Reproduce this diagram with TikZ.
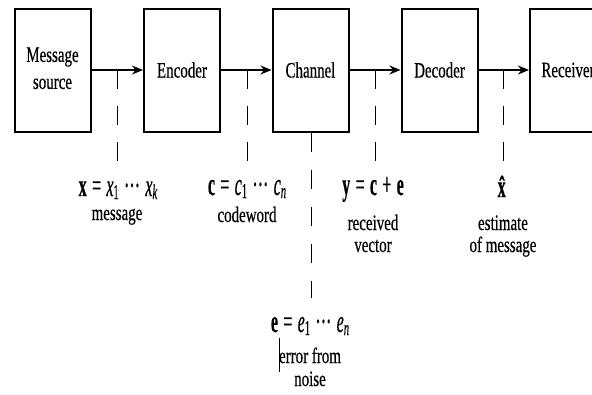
\documentclass[tikz,border=0pt]{standalone}
\usepackage{fontspec}
\setmainfont{Liberation Serif}[FakeStretch=0.68,FakeBold=0.4]
\newfontfamily\eqf{Liberation Serif}[FakeStretch=0.5,FakeBold=0.4]
\usetikzlibrary{arrows.meta}
\newcommand{\mdots}{\,\textperiodcentered\textperiodcentered\textperiodcentered\,}
\newcommand{\lowsub}[1]{\raisebox{-3pt}{\fontsize{21}{21}\selectfont #1}}
\tikzset{
  blk/.style={draw, line width=2pt, minimum width=76pt, minimum height=123pt,
    inner sep=0pt, align=center, font=\fontsize{22}{27}\selectfont},
  flow/.style={line width=2pt, -{Stealth[length=11pt,width=9pt]}},
  drop/.style={line width=1pt, dash pattern=on 19pt off 17pt},
  dropb/.style={line width=1pt, dash pattern=on 19pt off 18pt},
  lbl/.style={inner sep=0pt, anchor=base, font=\fontsize{22}{24}\selectfont},
  eqn/.style={inner sep=0pt, anchor=base, font=\eqf\fontsize{32}{32}\selectfont}
}
\begin{document}
\begin{tikzpicture}[x=1pt,y=-1pt]
\useasboundingbox (0,0) rectangle (592,394);
\clip (0,0) rectangle (592,394);
% blocks
\node[blk] (src) at (52.5,70) {\raisebox{-4pt}{\begin{tabular}{@{}c@{}}Message\\source\end{tabular}}};
\node[blk] (enc) at (182,70) {\raisebox{-5pt}{Encoder}};
\node[blk] (chn) at (310.5,70) {\raisebox{-5pt}{Channel}};
\node[blk] (dec) at (439.5,70) {\raisebox{-5pt}{Decoder}};
\node[blk] (rcv) at (568,70) {\raisebox{-5pt}{Receiver}};
% arrows
\draw[flow] (src) -- (enc);
\draw[flow] (enc) -- (chn);
\draw[flow] (chn) -- (dec);
\draw[flow] (dec) -- (rcv);
% drop lines
\coordinate (t1) at (117,70);  \coordinate (b1) at (117,163);
\coordinate (t2) at (247,70);  \coordinate (b2) at (247,163);
\coordinate (t3) at (375,70);  \coordinate (b3) at (375,163);
\coordinate (t4) at (503,70);  \coordinate (b4) at (503,163);
\coordinate (b5) at (311,298);
\draw[drop] (t1) -- (b1);
\draw[drop] (t2) -- (b2);
\draw[drop] (t3) -- (b3);
\draw[drop] (t4) -- (b4);
\draw[dropb] (chn.south -| b5) -- (b5);
% labels
\node[eqn] (eq1) at (118,196) {\textbf{x}\,=\,\textit{x}\lowsub{1}\mdots\textit{x}\lowsub{\textit{k}}};
\node[lbl] (m1) at (117,220) {message};
\node[eqn] (eq2) at (247,195) {\textbf{c}\,=\,\textit{c}\lowsub{1}\mdots\textit{c}\lowsub{\textit{n}}};
\node[lbl] (m2) at (247,222) {codeword};
\node[eqn] (eq3) at (373,195) {\textbf{y}\,=\,\textbf{c}\,+\,\textbf{e}};
\node[lbl] (m3a) at (373,230) {received};
\node[lbl] (m3b) at (373,252) {vector};
\node[eqn] (eq4) at (503,197) {\textbf{\^{x}}};
\node[lbl] (m4a) at (503,230) {estimate};
\node[lbl] (m4b) at (503,252) {of message};
\node[eqn] (eq5) at (310,332) {\textbf{e}\,=\,\textit{e}\lowsub{1}\mdots\textit{e}\lowsub{\textit{n}}};
\node[lbl] (m5a) at (310,363) {error from};
\node[lbl] (m5b) at (310,386) {noise};
% stray bar
\coordinate (s1) at (279,338); \coordinate (s2) at (279,372);
\draw[line width=0.7pt] (s1) -- (s2);
\end{tikzpicture}
\end{document}
